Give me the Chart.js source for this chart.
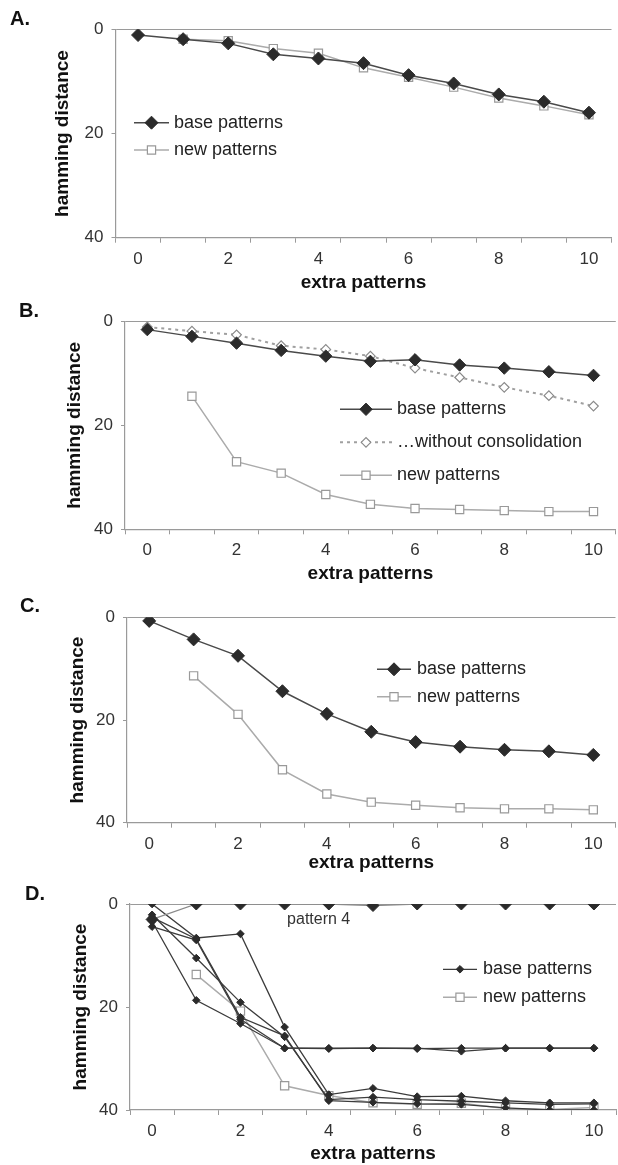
<!DOCTYPE html>
<html>
<head>
<meta charset="utf-8">
<script src="https://cdn.jsdelivr.net/npm/chart.js@4.4.0/dist/chart.umd.min.js"></script>
<style>
html, body { margin: 0; padding: 0; background: #fff; overflow: hidden; width: 618px; height: 1165px; }
.panel { position: absolute; left: 0; }
</style>
</head>
<body>
<div class="panel" id="pA"><canvas id="cA"></canvas></div>
<div class="panel" id="pB"><canvas id="cB"></canvas></div>
<div class="panel" id="pC"><canvas id="cC"></canvas></div>
<div class="panel" id="pD"><canvas id="cD"></canvas></div>
<script>
// categories and axis ticks
var extra = ['0', '1', '2', '3', '4', '5', '6', '7', '8', '9', '10'];
var yTicks = [0, 20, 40];

// A.
var aBase = [1.1, 1.9, 2.7, 4.8, 5.6, 6.5, 8.8, 10.4, 12.5, 13.9, 16.0];
var aNew  = [null, 1.9, 2.2, 3.7, 4.6, 7.4, 9.2, 11.1, 13.2, 14.7, 16.4];

// B.
var bBase   = [1.6, 2.9, 4.2, 5.6, 6.7, 7.7, 7.4, 8.4, 9.0, 9.7, 10.4];
var bNoCons = [1.1, 1.9, 2.6, 4.7, 5.4, 6.7, 9.0, 10.8, 12.7, 14.3, 16.3];
var bNew    = [null, 14.4, 27.0, 29.2, 33.3, 35.2, 36.0, 36.2, 36.4, 36.6, 36.6];

// C.
var cBase = [0.7, 4.3, 7.5, 14.4, 18.8, 22.3, 24.3, 25.2, 25.8, 26.1, 26.8];
var cNew  = [null, 11.4, 18.9, 29.7, 34.4, 36.0, 36.6, 37.1, 37.3, 37.3, 37.5];

// D.
var dPattern4 = [3.0, 0, 0, 0, 0, 0.3, 0, 0, 0, 0, 0];
var dBase1 = [0, 6.6, 5.8, 23.9, 37.0, 35.8, 37.4, 37.3, 38.2, 38.6, 38.6];
var dBase2 = [4.4, 7.0, 22.4, 28.0, 28.1, 28.0, 28.1, 28.0, 28.0, 28.0, 28.0];
var dBase3 = [2.1, 10.5, 19.1, 25.8, 38.0, 37.5, 38.0, 38.3, 38.6, 38.9, 38.8];
var dBase4 = [3.4, 18.7, 23.2, 28.0, 28.0, 28.0, 28.0, 28.6, 28.0, 28.0, 28.0];
var dBase5 = [2.6, 6.8, 22.0, 25.6, 38.2, 38.5, 38.8, 38.9, 39.6, 40.0, 40.0];
var dNew   = [null, 13.7, 20.8, 35.3, 37.2, 38.6, 38.9, 38.7, 39.7, 39.9, 39.5];

Chart.defaults.font.family = '"Liberation Sans", Arial, sans-serif';
Chart.defaults.animation = false;

var AXIS = '#9a9a9a';
var DARK = '#2b2b2b';

function marker(ctx, style, x, y, r, fill, stroke, lw) {
    ctx.beginPath();
    if (style === 'rectRot') {
        ctx.moveTo(x - r, y); ctx.lineTo(x, y - r); ctx.lineTo(x + r, y); ctx.lineTo(x, y + r);
    } else {
        var s = r * Math.SQRT1_2;
        ctx.rect(x - s, y - s, 2 * s, 2 * s);
    }
    ctx.closePath();
    ctx.fillStyle = fill;
    ctx.fill();
    ctx.lineWidth = lw || 1;
    ctx.strokeStyle = stroke;
    ctx.stroke();
}

// panel letter, legend rows and the note in D
var overlay = {
    id: 'overlay',
    afterDraw: function(chart, args, o) {
        var ctx = chart.ctx;
        ctx.save();
        ctx.fillStyle = '#111';
        ctx.textAlign = 'left';
        ctx.textBaseline = 'alphabetic';
        ctx.font = 'bold 20px "Liberation Sans", Arial, sans-serif';
        ctx.fillText(o.tag, o.tagX, o.tagY);

        ctx.font = '18px "Liberation Sans", Arial, sans-serif';
        ctx.textBaseline = 'middle';
        o.rows.forEach(function(di, k) {
            var ds = chart.data.datasets[di];
            var y = o.legY + k * o.legDy;
            ctx.beginPath();
            ctx.strokeStyle = ds.borderColor;
            ctx.lineWidth = ds.borderWidth;
            ctx.setLineDash(ds.borderDash || []);
            ctx.moveTo(o.legX0, y);
            ctx.lineTo(o.legX1, y);
            ctx.stroke();
            ctx.setLineDash([]);
            marker(ctx, ds.pointStyle, (o.legX0 + o.legX1) / 2, y, ds.pointRadius,
                ds.pointBackgroundColor, ds.pointBorderColor, ds.pointBorderWidth);
            ctx.fillStyle = '#222';
            ctx.fillText(ds.label, o.legTextX, y);
        });

        if (o.note) {
            ctx.font = '16px "Liberation Sans", Arial, sans-serif';
            ctx.textAlign = 'center';
            ctx.fillStyle = '#333';
            ctx.fillText(o.note.text, chart.scales.x.getPixelForValue(o.note.at), chart.scales.y.getPixelForValue(o.note.value));
        }
        ctx.restore();
    }
};

function scalesFor(g) {
    return {
        x: {
            type: 'category',
            labels: extra,
            offset: true,
            grid: { offset: true, drawOnChartArea: false, drawTicks: true, tickLength: 5, color: AXIS },
            border: { display: true, color: AXIS, width: 1.2 },
            ticks: {
                autoSkip: false, maxRotation: 0, padding: 6, color: '#333', font: { size: 17 },
                callback: function(v, i) { return i % 2 ? '' : extra[i]; }
            },
            title: {
                display: true, text: 'extra patterns', color: '#111',
                font: { size: 19, weight: 'bold' }, padding: { top: 0, bottom: g.xTitlePad }
            },
            afterFit: function(s) { s.height = g.xAxisH; }
        },
        y: {
            reverse: true,
            min: yTicks[0],
            max: yTicks[yTicks.length - 1],
            afterBuildTicks: function(s) { s.ticks = yTicks.map(function(v) { return { value: v }; }); },
            grid: {
                color: function(c) { return c.tick && c.tick.value === 0 ? AXIS : 'rgba(0,0,0,0)'; },
                tickColor: AXIS, tickLength: 4, drawTicks: true
            },
            border: { display: true, color: AXIS, width: 1.2 },
            ticks: { padding: 8, color: '#333', font: { size: 17 } },
            title: {
                display: true, text: 'hamming distance', color: '#111',
                font: { size: 19, weight: 'bold' }, padding: { top: g.yTitlePad, bottom: 0 }
            },
            afterFit: function(s) { s.width = g.axisX; }
        }
    };
}

function baseSet(label, data, r) {
    return {
        label: label, data: data,
        borderColor: '#4a4a4a', borderWidth: 1.5,
        pointStyle: 'rectRot', pointRadius: r, pointHoverRadius: r,
        pointBackgroundColor: DARK, pointBorderColor: DARK, pointBorderWidth: 1
    };
}

function newSet(label, data) {
    return {
        label: label, data: data,
        borderColor: '#ababab', borderWidth: 1.5,
        pointStyle: 'rect', pointRadius: 5.8, pointHoverRadius: 5.8,
        pointBackgroundColor: '#fff', pointBorderColor: '#999', pointBorderWidth: 1.2
    };
}

function makePanel(id, g, datasets, ov) {
    var box = document.getElementById('p' + id);
    box.style.top = g.top + 'px';
    box.style.width = g.w + 'px';
    box.style.height = g.h + 'px';
    new Chart(document.getElementById('c' + id), {
        type: 'line',
        data: { labels: extra, datasets: datasets },
        options: {
            responsive: true,
            maintainAspectRatio: false,
            layout: { padding: { top: g.padTop, left: 0, right: 0, bottom: 0 } },
            plugins: { legend: { display: false }, tooltip: { enabled: false }, overlay: ov },
            scales: scalesFor(g)
        },
        plugins: [overlay]
    });
}

makePanel('A',
    { top: 0, h: 300, w: 619, padTop: 29.3, xAxisH: 62.3, axisX: 115.5, xTitlePad: 6.3, yTitlePad: 51.6 },
    [baseSet('base patterns', aBase, 6.5), newSet('new patterns', aNew)],
    { tag: 'A.', tagX: 10, tagY: 24.5, rows: [0, 1], legX0: 134, legX1: 169, legTextX: 174, legY: 122.7, legDy: 27.3 });

makePanel('B',
    { top: 290, h: 300, w: 623, padTop: 31.3, xAxisH: 60.7, axisX: 125, xTitlePad: 5.3, yTitlePad: 63.6 },
    [
        baseSet('base patterns', bBase, 6.2),
        {
            label: '\u2026without consolidation', data: bNoCons,
            borderColor: '#a0a0a0', borderWidth: 2, borderDash: [3, 4],
            pointStyle: 'rectRot', pointRadius: 4.8, pointHoverRadius: 4.8,
            pointBackgroundColor: '#fff', pointBorderColor: '#8a8a8a', pointBorderWidth: 1.2
        },
        newSet('new patterns', bNew)
    ],
    { tag: 'B.', tagX: 19, tagY: 27, rows: [0, 1, 2], legX0: 340, legX1: 392, legTextX: 397, legY: 119.3, legDy: 33 });

makePanel('C',
    { top: 580, h: 300, w: 623, padTop: 37.3, xAxisH: 57.3, axisX: 127, xTitlePad: 5.6, yTitlePad: 66.6 },
    [baseSet('base patterns', cBase, 6.5), newSet('new patterns', cNew)],
    { tag: 'C.', tagX: 20, tagY: 32, rows: [0, 1], legX0: 377, legX1: 411, legTextX: 417, legY: 89.3, legDy: 27.4 });

function dLine(label, data) {
    var s = baseSet(label, data, 3.8);
    s.borderColor = '#3c3c3c';
    s.borderWidth = 1.3;
    return s;
}
var dP4 = baseSet('', dPattern4, 6);
dP4.borderColor = '#8a8a8a';
dP4.borderWidth = 1.3;

makePanel('D',
    { top: 870, h: 295, w: 623, padTop: 34, xAxisH: 55, axisX: 130, xTitlePad: 0.3, yTitlePad: 69.6 },
    [
        dP4,
        dLine('base patterns', dBase1),
        dLine('', dBase2),
        dLine('', dBase3),
        dLine('', dBase4),
        dLine('', dBase5),
        newSet('new patterns', dNew)
    ],
    { tag: 'D.', tagX: 25, tagY: 30, rows: [1, 6], legX0: 443, legX1: 477, legTextX: 483, legY: 99.3, legDy: 28,
      note: { text: 'pattern 4', at: 3.77, value: 3.1 } });
</script>
</body>
</html>
